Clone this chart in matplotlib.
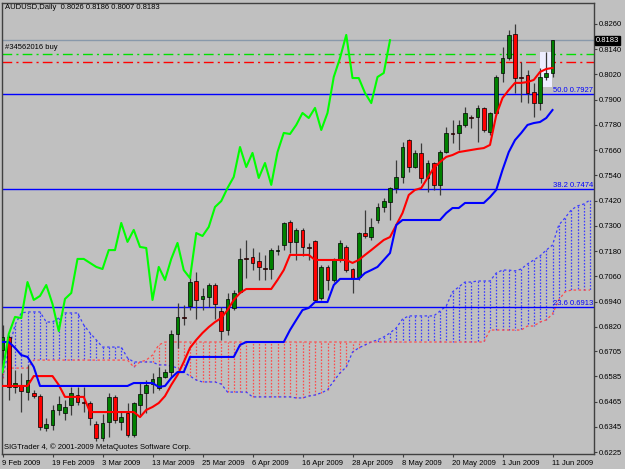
import matplotlib
matplotlib.use("Agg")
import matplotlib.pyplot as plt
import matplotlib.transforms as mtransforms
from matplotlib.patches import Rectangle
import numpy as np

plt.rcParams['font.family'] = ['Liberation Sans', 'DejaVu Sans']
FS = 5.5

# AUDUSD daily, 9 Feb 2009 .. 11 Jun 2009 (89 bars)
opens = [0.6710, 0.6772, 0.6534, 0.6539, 0.6510, 0.6506, 0.6491, 0.6339, 0.6353, 0.6425,
         0.6410, 0.6449, 0.6496, 0.6463, 0.6458, 0.6358, 0.6292, 0.6368, 0.6487, 0.6368,
         0.6410, 0.6306, 0.6449, 0.6506, 0.6548, 0.6529, 0.6582, 0.6605, 0.6786, 0.6867,
         0.6919, 0.7038, 0.6953, 0.6962, 0.7019, 0.6895, 0.6805, 0.6910, 0.6986, 0.7147,
         0.7152, 0.7133, 0.7100, 0.7095, 0.7181, 0.7209, 0.7319, 0.7224, 0.7281, 0.7200,
         0.7228, 0.6957, 0.7105, 0.7043, 0.7138, 0.7200, 0.7095, 0.7057, 0.7266, 0.7247,
         0.7328, 0.7390, 0.7414, 0.7480, 0.7533, 0.7708, 0.7580, 0.7647, 0.7528, 0.7599,
         0.7495, 0.7651, 0.7742, 0.7742, 0.7780, 0.7818, 0.7818, 0.7861, 0.7747, 0.7837,
         0.8027, 0.8098, 0.8212, 0.8008, 0.8018, 0.7937, 0.7884, 0.8008, 0.8026]
highs = [0.6829, 0.6781, 0.6615, 0.6601, 0.6639, 0.6520, 0.6501, 0.6387, 0.6449, 0.6491,
         0.6472, 0.6534, 0.6534, 0.6534, 0.6468, 0.6372, 0.6406, 0.6506, 0.6496, 0.6420,
         0.6458, 0.6463, 0.6553, 0.6567, 0.6601, 0.6629, 0.6620, 0.6805, 0.6933, 0.6924,
         0.7081, 0.7081, 0.7005, 0.7029, 0.7029, 0.6914, 0.6981, 0.6995, 0.7195, 0.7233,
         0.7195, 0.7176, 0.7162, 0.7195, 0.7209, 0.7319, 0.7328, 0.7290, 0.7290, 0.7219,
         0.7233, 0.7114, 0.7114, 0.7147, 0.7233, 0.7209, 0.7100, 0.7271, 0.7376, 0.7338,
         0.7409, 0.7433, 0.7485, 0.7613, 0.7699, 0.7713, 0.7661, 0.7694, 0.7613, 0.7604,
         0.7661, 0.7770, 0.7804, 0.7804, 0.7865, 0.7827, 0.7875, 0.7865, 0.7842, 0.8018,
         0.8151, 0.8232, 0.8260, 0.8079, 0.8041, 0.7980, 0.8051, 0.8127, 0.8186]
lows = [0.6662, 0.6472, 0.6506, 0.6415, 0.6472, 0.6482, 0.6330, 0.6325, 0.6330, 0.6401,
        0.6377, 0.6401, 0.6449, 0.6415, 0.6353, 0.6277, 0.6277, 0.6296, 0.6363, 0.6330,
        0.6296, 0.6296, 0.6401, 0.6410, 0.6506, 0.6520, 0.6577, 0.6582, 0.6720, 0.6829,
        0.6900, 0.6857, 0.6900, 0.6914, 0.6857, 0.6757, 0.6781, 0.6900, 0.6981, 0.7052,
        0.7090, 0.7043, 0.7043, 0.7048, 0.7162, 0.7185, 0.7171, 0.7138, 0.7157, 0.7138,
        0.6943, 0.6948, 0.6995, 0.7033, 0.7128, 0.7081, 0.6981, 0.7043, 0.7243, 0.7233,
        0.7314, 0.7366, 0.7328, 0.7456, 0.7504, 0.7556, 0.7575, 0.7504, 0.7461, 0.7471,
        0.7447, 0.7647, 0.7694, 0.7661, 0.7770, 0.7766, 0.7699, 0.7747, 0.7732, 0.7827,
        0.7984, 0.8089, 0.7932, 0.7889, 0.7884, 0.7818, 0.7851, 0.7994, 0.8007]
closes = [0.6772, 0.6534, 0.6553, 0.6515, 0.6567, 0.6491, 0.6344, 0.6358, 0.6425, 0.6453,
          0.6439, 0.6506, 0.6463, 0.6458, 0.6387, 0.6292, 0.6363, 0.6487, 0.6377, 0.6391,
          0.6306, 0.6458, 0.6501, 0.6544, 0.6572, 0.6582, 0.6605, 0.6786, 0.6867, 0.6862,
          0.7033, 0.6948, 0.6967, 0.7019, 0.6929, 0.6800, 0.6953, 0.6981, 0.7143, 0.7143,
          0.7124, 0.7105, 0.7095, 0.7185, 0.7185, 0.7314, 0.7224, 0.7281, 0.7200, 0.7195,
          0.6948, 0.7105, 0.7043, 0.7143, 0.7219, 0.7090, 0.7052, 0.7266, 0.7252, 0.7295,
          0.7390, 0.7418, 0.7480, 0.7533, 0.7675, 0.7580, 0.7647, 0.7528, 0.7599, 0.7495,
          0.7651, 0.7742, 0.7737, 0.7780, 0.7837, 0.7813, 0.7861, 0.7756, 0.7837, 0.8008,
          0.8098, 0.8208, 0.8003, 0.8003, 0.7932, 0.7884, 0.8008, 0.8027, 0.8183]

# Ichimoku lines
tenkan = [0.6539, 0.6539, 0.6539, 0.6539, 0.6539, 0.6586, 0.6586, 0.6586, 0.6586, 0.6544,
          0.6487, 0.6487, 0.6487, 0.6487, 0.6415, 0.6415, 0.6415, 0.6415, 0.6415, 0.6415,
          0.6415, 0.6415, 0.6391, 0.6425, 0.6439, 0.6458, 0.6491, 0.6544, 0.6591, 0.6653,
          0.6720, 0.6758, 0.6791, 0.6819, 0.6843, 0.6862, 0.6900, 0.6948, 0.6981, 0.7000,
          0.7000, 0.7000, 0.7000, 0.7000, 0.7043, 0.7090, 0.7162, 0.7162, 0.7162, 0.7162,
          0.7138, 0.7138, 0.7138, 0.7138, 0.7138, 0.7138, 0.7124, 0.7138, 0.7162, 0.7185,
          0.7209, 0.7233, 0.7247, 0.7304, 0.7361, 0.7447, 0.7471, 0.7480, 0.7528, 0.7575,
          0.7604, 0.7628, 0.7637, 0.7651, 0.7656, 0.7661, 0.7666, 0.7670, 0.7685, 0.7827,
          0.7908, 0.7946, 0.7980, 0.7980, 0.7984, 0.7994, 0.8032, 0.8046, 0.8051]
kijun = [0.6748, 0.6748, 0.6720, 0.6686, 0.6677, 0.6629, 0.6539, 0.6539, 0.6539, 0.6539,
         0.6539, 0.6539, 0.6539, 0.6539, 0.6539, 0.6539, 0.6539, 0.6539, 0.6539, 0.6539,
         0.6539, 0.6553, 0.6553, 0.6553, 0.6553, 0.6534, 0.6539, 0.6577, 0.6605, 0.6605,
         0.6677, 0.6677, 0.6677, 0.6677, 0.6677, 0.6677, 0.6677, 0.6677, 0.6734, 0.6748,
         0.6748, 0.6748, 0.6748, 0.6748, 0.6748, 0.6748, 0.6805, 0.6853, 0.6900, 0.6910,
         0.6938, 0.6938, 0.6938, 0.7019, 0.7048, 0.7048, 0.7048, 0.7048, 0.7076, 0.7090,
         0.7105, 0.7138, 0.7171, 0.7304, 0.7328, 0.7328, 0.7328, 0.7328, 0.7328, 0.7328,
         0.7328, 0.7361, 0.7385, 0.7385, 0.7409, 0.7409, 0.7409, 0.7409, 0.7437, 0.7471,
         0.7566, 0.7651, 0.7708, 0.7742, 0.7780, 0.7789, 0.7794, 0.7813, 0.7851]
# cloud spans, already drawn 26 bars ahead (bar 0 .. 94)
span_a = [0.6577, 0.6710, 0.6829, 0.6886, 0.6891, 0.6891, 0.6891, 0.6843, 0.6843, 0.6862,
          0.6886, 0.6886, 0.6886, 0.6829, 0.6791, 0.6758, 0.6724, 0.6724, 0.6724, 0.6724,
          0.6672, 0.6653, 0.6653, 0.6653, 0.6653, 0.6639, 0.6639, 0.6634, 0.6624, 0.6605,
          0.6586, 0.6567, 0.6558, 0.6558, 0.6558, 0.6548, 0.6510, 0.6510, 0.6510, 0.6510,
          0.6487, 0.6487, 0.6487, 0.6487, 0.6487, 0.6487, 0.6487, 0.6482, 0.6482, 0.6491,
          0.6496, 0.6506, 0.6520, 0.6563, 0.6601, 0.6629, 0.6700, 0.6720, 0.6734, 0.6748,
          0.6758, 0.6772, 0.6791, 0.6815, 0.6857, 0.6872, 0.6872, 0.6872, 0.6872, 0.6872,
          0.6895, 0.6919, 0.6986, 0.7010, 0.7033, 0.7033, 0.7038, 0.7038, 0.7038, 0.7076,
          0.7090, 0.7090, 0.7086, 0.7095, 0.7119, 0.7138, 0.7157, 0.7185, 0.7209, 0.7304,
          0.7338, 0.7376, 0.7395, 0.7404, 0.7423]
span_b = [0.6605, 0.6624, 0.6624, 0.6624, 0.6624, 0.6662, 0.6662, 0.6662, 0.6662, 0.6662,
          0.6662, 0.6662, 0.6662, 0.6662, 0.6662, 0.6662, 0.6662, 0.6662, 0.6662, 0.6662,
          0.6662, 0.6629, 0.6653, 0.6662, 0.6686, 0.6734, 0.6748, 0.6748, 0.6748, 0.6748,
          0.6748, 0.6748, 0.6748, 0.6748, 0.6748, 0.6748, 0.6748, 0.6748, 0.6748, 0.6748,
          0.6748, 0.6748, 0.6748, 0.6748, 0.6748, 0.6748, 0.6748, 0.6748, 0.6748, 0.6748,
          0.6748, 0.6748, 0.6748, 0.6748, 0.6748, 0.6748, 0.6748, 0.6748, 0.6748, 0.6748,
          0.6748, 0.6748, 0.6748, 0.6748, 0.6748, 0.6748, 0.6748, 0.6748, 0.6748, 0.6748,
          0.6748, 0.6748, 0.6748, 0.6748, 0.6748, 0.6748, 0.6748, 0.6748, 0.6805, 0.6805,
          0.6805, 0.6805, 0.6805, 0.6805, 0.6824, 0.6824, 0.6843, 0.6853, 0.6881, 0.6948,
          0.6986, 0.6995, 0.6995, 0.6995, 0.6995]

date_pos = [0, 8, 16, 24, 32, 40, 48, 56, 64, 72, 80, 88]
date_labels = ["9 Feb 2009", "19 Feb 2009", "3 Mar 2009", "13 Mar 2009", "25 Mar 2009",
               "6 Apr 2009", "16 Apr 2009", "28 Apr 2009", "8 May 2009", "20 May 2009",
               "1 Jun 2009", "11 Jun 2009"]
price_ticks = [0.8260, 0.8140, 0.8020, 0.7900, 0.7780, 0.7660, 0.7540, 0.7420, 0.7300,
               0.7180, 0.7060, 0.6940, 0.6820, 0.6705, 0.6585, 0.6465, 0.6345, 0.6225]
fib_levels = [0.7927, 0.7474, 0.6913]
fib_names = ["50.0", "38.2", "23.6"]
bid = 0.8183
order_open = 0.8117
order_stop = 0.8079

BG = '#c0c0c0'
GREEN = '#008000'
RED = '#ff0000'
KUMO_UP = '#3c3cff'
KUMO_DN = '#ff4a4a'

fig = plt.figure(figsize=(6.25, 4.69), dpi=100, facecolor=BG)
ax = fig.add_axes([2 / 625, 1 - 454 / 469, 592 / 625, 451 / 469])
ax.set_facecolor(BG)
ax.set_xlim(-0.08, 94.64)
ax.set_ylim(0.62155, 0.83598)

o = np.array(opens)
h = np.array(highs)
l = np.array(lows)
c = np.array(closes)
x = np.arange(len(c))

# cloud: one dotted vertical stroke per bar between the two spans
for k, (a, b) in enumerate(zip(span_a, span_b)):
    col = KUMO_UP if a >= b else KUMO_DN
    ax.plot([k, k], [a, b], color=col, ls=(0, (1.3, 1.3)), lw=0.9, zorder=1)
ax.plot(range(len(span_a)), span_a, color=KUMO_UP, ls=(0, (2, 2)), lw=0.9, zorder=1.2)
ax.plot(range(len(span_b)), span_b, color=KUMO_DN, ls=(0, (2, 2)), lw=0.9, zorder=1.2)

# horizontal objects
for lvl, name in zip(fib_levels, fib_names):
    ax.axhline(lvl, color='#0000ff', lw=1.0, zorder=1.5)
    ax.text(94.45, lvl + 0.0002, f"{name} {lvl:.4f}", color='#0000ff', ha='right',
            va='bottom', fontsize=FS, zorder=6)
ax.axhline(bid, color='#8898aa', lw=1.0, zorder=1.5)
ax.axhline(order_open, color='#00e000', lw=1.0, ls=(0, (7, 3, 1.5, 3)), zorder=1.5)
ax.axhline(order_stop, color='#ff0000', lw=1.0, ls=(0, (7, 3, 1.5, 3)), zorder=1.5)
ax.add_patch(Rectangle((85.95, 0.7960), 1.95, 0.0167, facecolor='#eeeeff',
                       edgecolor='none', zorder=1.6))

# candles
ax.vlines(x, l, h, colors='#3a3a3a', lw=0.9, zorder=3)
body_cols = [GREEN if cc >= oo else RED for oo, cc in zip(o, c)]
ax.bar(x, np.abs(c - o), bottom=np.minimum(o, c), width=0.62, color=body_cols,
       edgecolor='black', linewidth=0.5, zorder=4)

# ichimoku lines
ax.plot(x, tenkan, color='#ff0000', lw=1.5, zorder=5)
ax.plot(x, kijun, color='#0000ff', lw=1.5, zorder=5)
ax.plot(x - 26, c, color='#00ff00', lw=1.5, zorder=5)   # chikou span

# axes styling
for sp in ax.spines.values():
    sp.set_color('#404040')
    sp.set_linewidth(1.0)
ax.yaxis.tick_right()
ax.set_yticks(price_ticks)
ax.set_yticklabels([f"{p:.4f}" for p in price_ticks])
ax.set_xticks(date_pos)
ax.set_xticklabels(date_labels)
for lbl in ax.get_xticklabels():
    lbl.set_horizontalalignment('left')
ax.tick_params(axis='y', direction='out', length=2.5, width=0.8, color='#404040',
               labelsize=FS, pad=1.2)
ax.tick_params(axis='x', direction='out', length=2.5, width=0.8, color='#404040',
               labelsize=FS, pad=1.5)

trans = mtransforms.blended_transform_factory(ax.transAxes, ax.transData)
ax.text(1.0035, bid, f"{bid:.4f}", transform=trans, ha='left', va='center', color='white',
        fontsize=FS, zorder=7,
        bbox=dict(boxstyle='square,pad=0.12', fc='black', ec='black'))

fig.text(5 / 625, 1 - 4 / 469, "AUDUSD,Daily  0.8026 0.8186 0.8007 0.8183",
         ha='left', va='top', fontsize=FS)
fig.text(5 / 625, 1 - 44 / 469, "#34562016 buy", ha='left', va='top', fontsize=FS)
fig.text(4 / 625, 1 - 443 / 469, "SIGTrader 4, \u00a9 2001-2009 MetaQuotes Software Corp.",
         ha='left', va='top', fontsize=FS)

fig.savefig("out.png", dpi=100, facecolor=BG)
